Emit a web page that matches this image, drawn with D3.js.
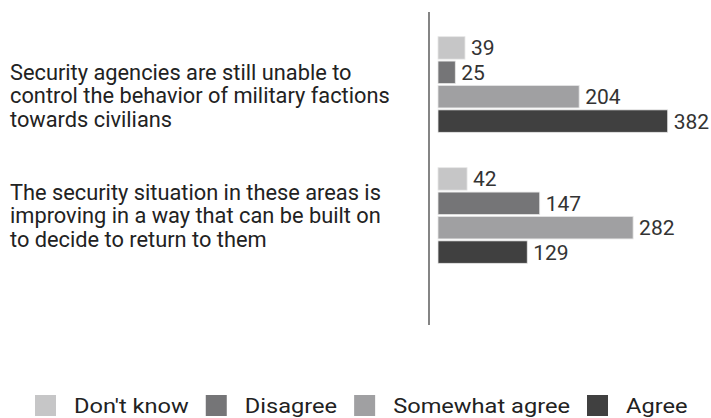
<!DOCTYPE html>
<html>
<head>
<meta charset="utf-8">
<script src="https://cdn.jsdelivr.net/npm/d3@7"></script>
<style>
  body { margin: 0; background: #fff; }
  text { font-family: Roboto, "Noto Sans", sans-serif; }
</style>
</head>
<body>
<svg id="chart" width="711" height="418"></svg>
<script>
// statements (y categories), each split in lines
const statements = [
  ["Security agencies are still unable to", "control the behavior of military factions", "towards civilians"],
  ["The security situation in these areas is", "improving in a way that can be built on", "to decide to return to them"]
];
const series = ["Don't know", "Disagree", "Somewhat agree", "Agree"];
const dontKnow = [39, 42];
const disagree = [25, 147];
const somewhatAgree = [204, 282];
const agree = [382, 129];
const colors = ["#c6c6c7", "#757577", "#a0a0a2", "#404040"];

let svg = d3.select("#chart");

let data = statements.map((s, i) => ({
    idx: i,
    lines: s,
    values: [dontKnow[i], disagree[i], somewhatAgree[i], agree[i]]
}));

let y0 = d3.scaleBand()
    .domain(d3.range(statements.length))
    .range([19, 281])
    .paddingInner(0.27)
    .paddingOuter(0.135);

let y1 = d3.scaleBand()
    .domain(series)
    .range([0, y0.bandwidth()])
    .paddingInner(0.08);

// the original axis stops short, longest bar gets cut at the edge
let x = d3.scaleLinear()
    .domain([0, 332])
    .range([438, 667.7])
    .clamp(true);

let color = d3.scaleOrdinal().domain(series).range(colors);

// axis line
svg.append("line")
    .attr("x1", 429).attr("x2", 429)
    .attr("y1", 12).attr("y2", 325)
    .attr("stroke", "#333")
    .attr("stroke-width", 1.2);

// left labels
let labelTop = [43, 32];
let lbl = svg.append("g").selectAll("text").data(data).enter().append("text")
    .attr("x", 10)
    .attr("y", d => y0(d.idx) + labelTop[d.idx])
    .attr("font-size", 21.8)
    .attr("fill", "#222");
lbl.selectAll("tspan").data(d => d.lines).enter().append("tspan")
    .attr("x", 10)
    .attr("dy", (d, i) => i === 0 ? 0 : 23.5)
    .text(d => d);

let groups = svg.append("g").selectAll("g").data(data).enter().append("g")
    .attr("transform", d => `translate(0,${y0(d.idx)})`);

groups.selectAll("rect")
    .data(d => d.values.map((v, j) => ({key: series[j], value: v})))
    .enter().append("rect")
    .attr("x", x(0))
    .attr("y", d => y1(d.key))
    .attr("width", d => x(d.value) - x(0))
    .attr("height", y1.bandwidth())
    .attr("fill", d => color(d.key))
    .attr("stroke", "#e6e6e6")
    .attr("stroke-width", 0.8);

groups.selectAll(".val")
    .data(d => d.values.map((v, j) => ({key: series[j], value: v})))
    .enter().append("text")
    .attr("class", "val")
    .attr("x", d => x(d.value) + 6)
    .attr("y", d => y1(d.key) + y1.bandwidth() / 2 + 7.5)
    .attr("font-size", 21)
    .attr("fill", "#333")
    .text(d => d.value);

// legend (text is a bit wider in the original)
let leg = svg.append("g");
let lx = 35;
series.forEach((s, i) => {
    leg.append("rect")
        .attr("x", lx).attr("y", 395)
        .attr("width", 21).attr("height", 21)
        .attr("fill", colors[i]);
    let t = leg.append("text")
        .attr("transform", `translate(${lx + 39},413) scale(1.125,1)`)
        .attr("font-size", 21)
        .attr("fill", "#222")
        .text(s);
    lx += 39 + t.node().getComputedTextLength() * 1.125 + 17;
});
</script>
</body>
</html>
